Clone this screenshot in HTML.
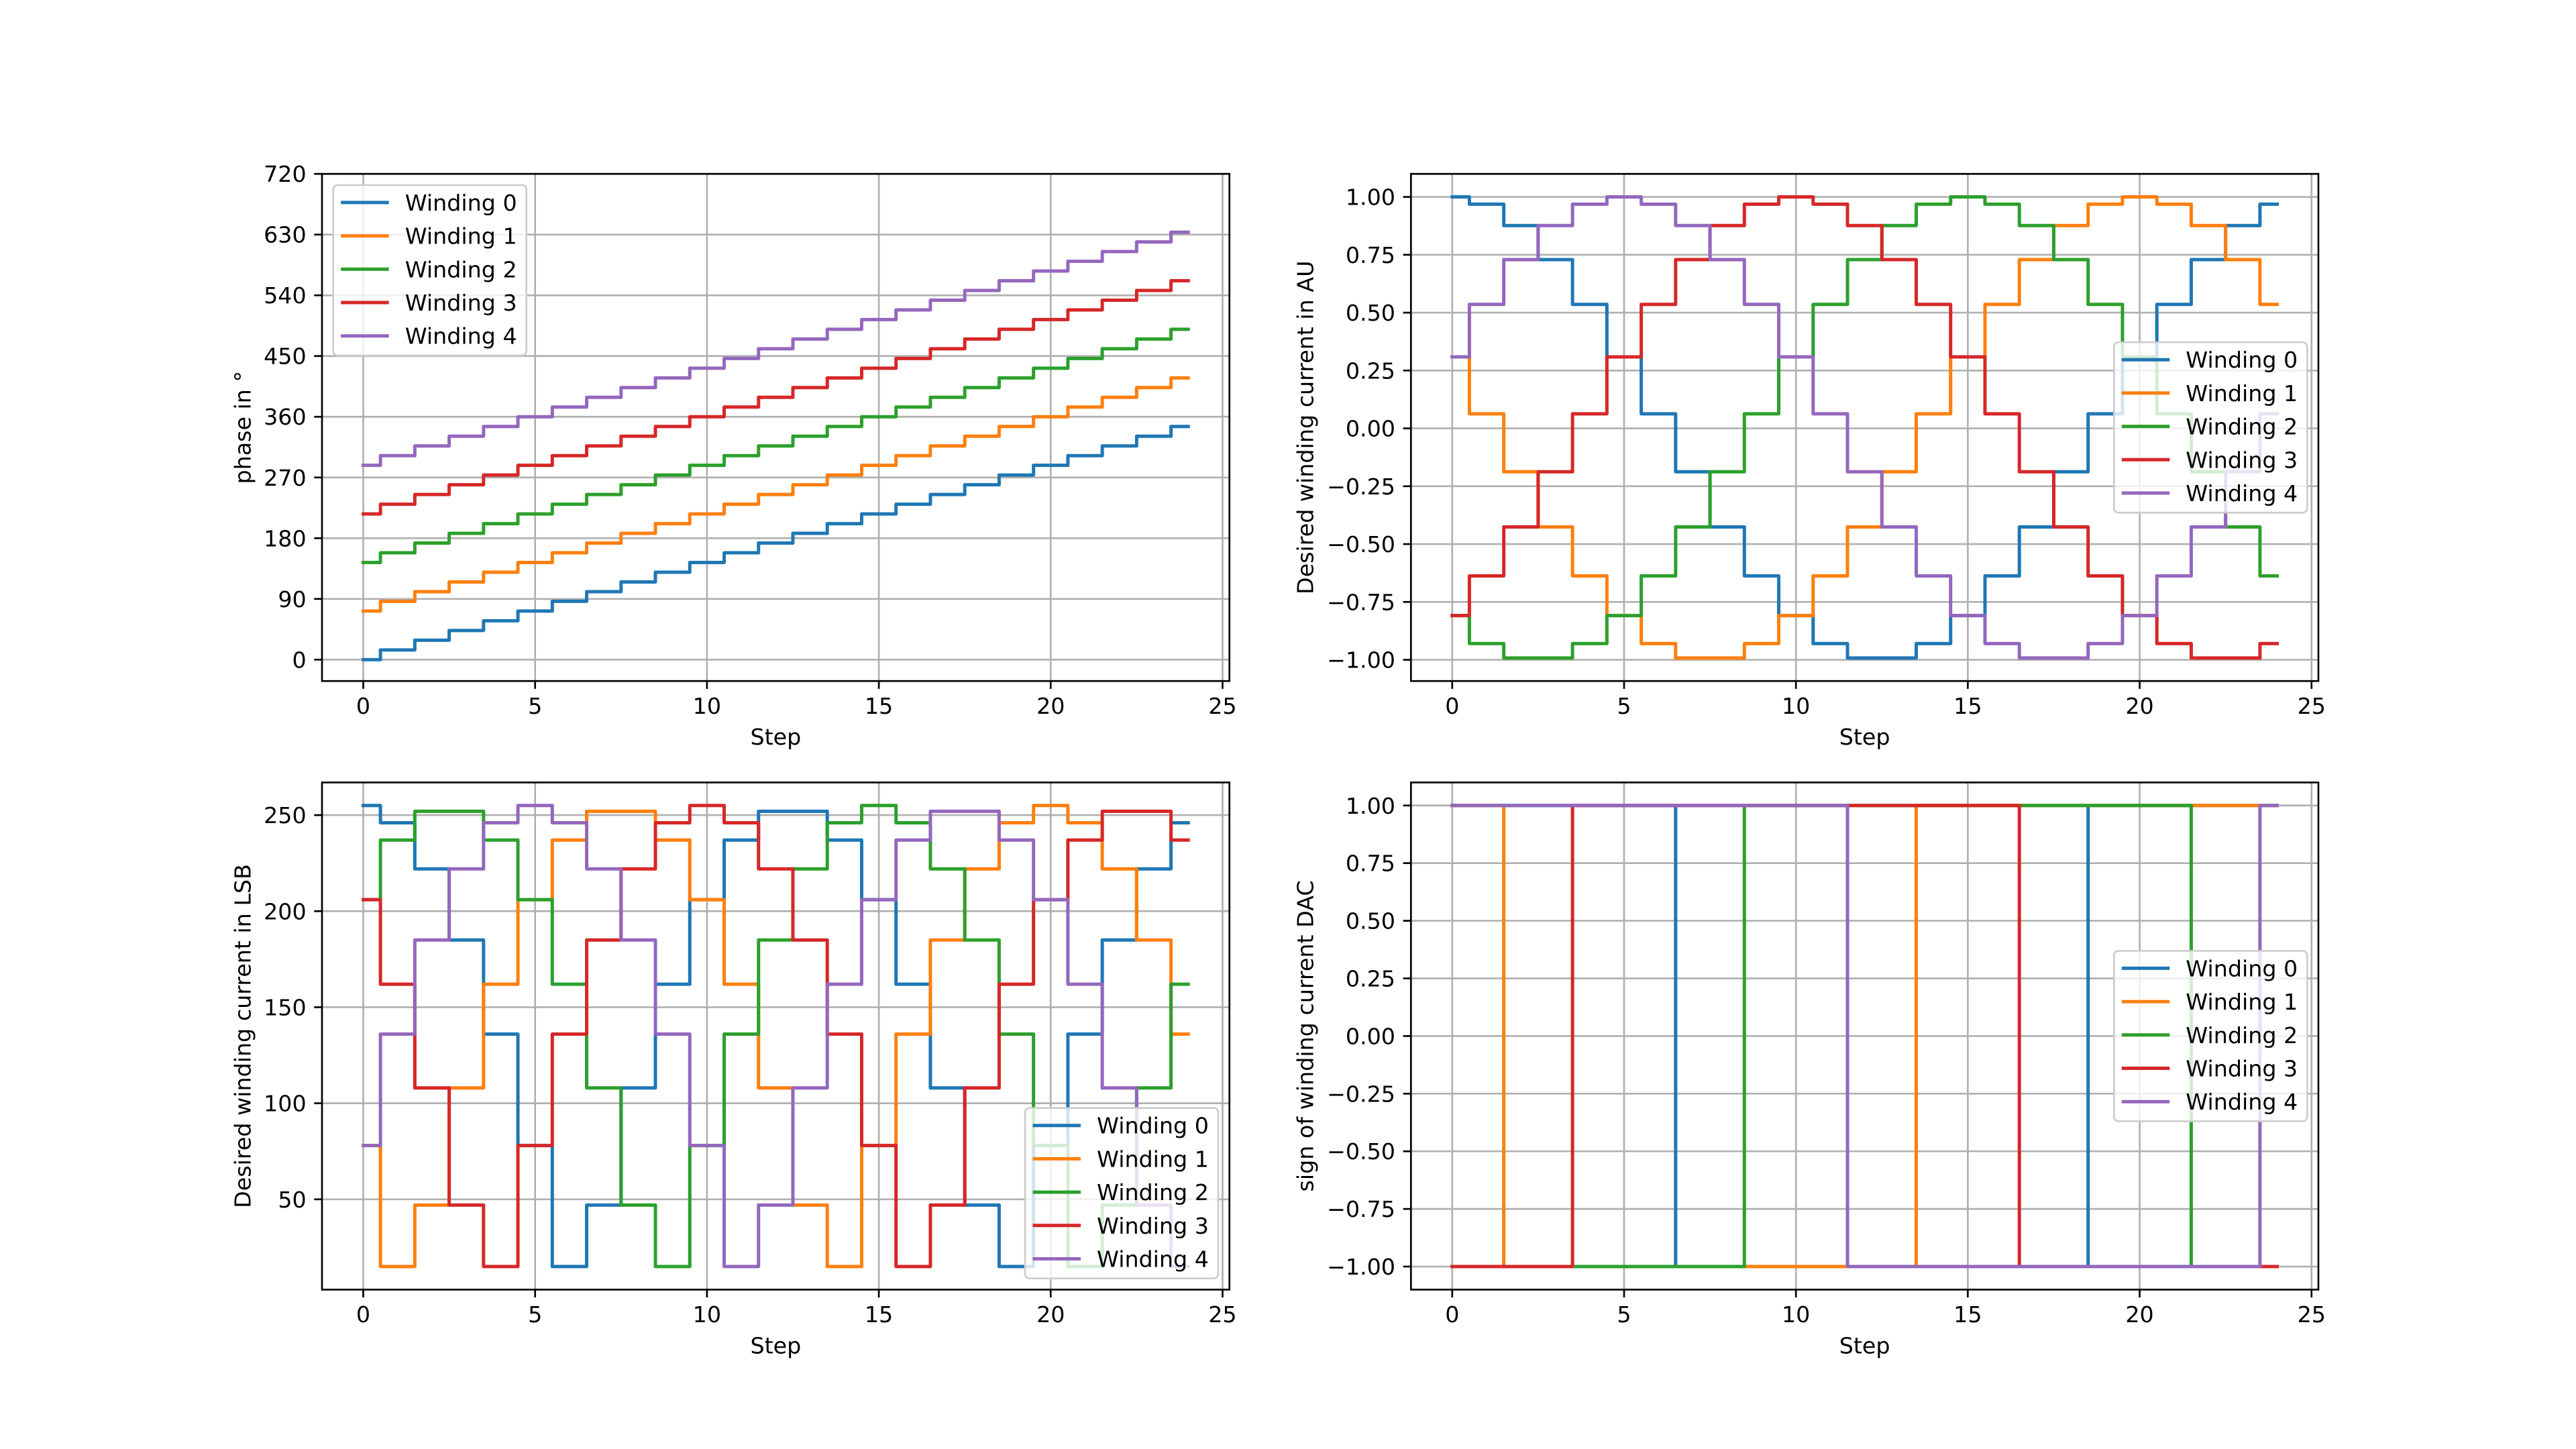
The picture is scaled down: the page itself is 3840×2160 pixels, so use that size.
<!DOCTYPE html>
<html><head><meta charset="utf-8"><title>Winding currents</title>
<style>
html,body{margin:0;padding:0;background:#fff;}
svg{display:block;font-family:"DejaVu Sans","Liberation Sans",sans-serif;}
</style></head>
<body>
<svg id="fig" width="3840" height="2160" viewBox="0 0 3840 2160" xmlns="http://www.w3.org/2000/svg">
<rect width="3840" height="2160" fill="#fff"/>
</svg>
<script>
const steps = [0,1,2,3,4,5,6,7,8,9,10,11,12,13,14,15,16,17,18,19,20,21,22,23,24];
const seriesNames = ["Winding 0","Winding 1","Winding 2","Winding 3","Winding 4"];
const xTicks = [0,5,10,15,20,25];

const phase0 = [0,14.4,28.8,43.2,57.6,72,86.4,100.8,115.2,129.6,144,158.4,172.8,187.2,201.6,216,230.4,244.8,259.2,273.6,288,302.4,316.8,331.2,345.6];
const phase1 = [72,86.4,100.8,115.2,129.6,144,158.4,172.8,187.2,201.6,216,230.4,244.8,259.2,273.6,288,302.4,316.8,331.2,345.6,360,374.4,388.8,403.2,417.6];
const phase2 = [144,158.4,172.8,187.2,201.6,216,230.4,244.8,259.2,273.6,288,302.4,316.8,331.2,345.6,360,374.4,388.8,403.2,417.6,432,446.4,460.8,475.2,489.6];
const phase3 = [216,230.4,244.8,259.2,273.6,288,302.4,316.8,331.2,345.6,360,374.4,388.8,403.2,417.6,432,446.4,460.8,475.2,489.6,504,518.4,532.8,547.2,561.6];
const phase4 = [288,302.4,316.8,331.2,345.6,360,374.4,388.8,403.2,417.6,432,446.4,460.8,475.2,489.6,504,518.4,532.8,547.2,561.6,576,590.4,604.8,619.2,633.6];
const phaseTicks = [0,90,180,270,360,450,540,630,720];

const au0 = [1,0.9686,0.8763,0.7290,0.5358,0.3090,0.0628,-0.1874,-0.4258,-0.6374,-0.8090,-0.9298,-0.9921,-0.9921,-0.9298,-0.8090,-0.6374,-0.4258,-0.1874,0.0628,0.3090,0.5358,0.7290,0.8763,0.9686];
const au1 = [0.3090,0.0628,-0.1874,-0.4258,-0.6374,-0.8090,-0.9298,-0.9921,-0.9921,-0.9298,-0.8090,-0.6374,-0.4258,-0.1874,0.0628,0.3090,0.5358,0.7290,0.8763,0.9686,1,0.9686,0.8763,0.7290,0.5358];
const au2 = [-0.8090,-0.9298,-0.9921,-0.9921,-0.9298,-0.8090,-0.6374,-0.4258,-0.1874,0.0628,0.3090,0.5358,0.7290,0.8763,0.9686,1,0.9686,0.8763,0.7290,0.5358,0.3090,0.0628,-0.1874,-0.4258,-0.6374];
const au3 = [-0.8090,-0.6374,-0.4258,-0.1874,0.0628,0.3090,0.5358,0.7290,0.8763,0.9686,1,0.9686,0.8763,0.7290,0.5358,0.3090,0.0628,-0.1874,-0.4258,-0.6374,-0.8090,-0.9298,-0.9921,-0.9921,-0.9298];
const au4 = [0.3090,0.5358,0.7290,0.8763,0.9686,1,0.9686,0.8763,0.7290,0.5358,0.3090,0.0628,-0.1874,-0.4258,-0.6374,-0.8090,-0.9298,-0.9921,-0.9921,-0.9298,-0.8090,-0.6374,-0.4258,-0.1874,0.0628];
const auTicks = [-1,-0.75,-0.5,-0.25,0,0.25,0.5,0.75,1];
const auTickLabels = ["\u22121.00","\u22120.75","\u22120.50","\u22120.25","0.00","0.25","0.50","0.75","1.00"];

const lsb0 = [255,246,222,185,136,78,15,47,108,162,206,237,252,252,237,206,162,108,47,15,78,136,185,222,246];
const lsb1 = [78,15,47,108,162,206,237,252,252,237,206,162,108,47,15,78,136,185,222,246,255,246,222,185,136];
const lsb2 = [206,237,252,252,237,206,162,108,47,15,78,136,185,222,246,255,246,222,185,136,78,15,47,108,162];
const lsb3 = [206,162,108,47,15,78,136,185,222,246,255,246,222,185,136,78,15,47,108,162,206,237,252,252,237];
const lsb4 = [78,136,185,222,246,255,246,222,185,136,78,15,47,108,162,206,237,252,252,237,206,162,108,47,15];
const lsbTicks = [50,100,150,200,250];

const sign0 = [1,1,1,1,1,1,1,-1,-1,-1,-1,-1,-1,-1,-1,-1,-1,-1,-1,1,1,1,1,1,1];
const sign1 = [1,1,-1,-1,-1,-1,-1,-1,-1,-1,-1,-1,-1,-1,1,1,1,1,1,1,1,1,1,1,1];
const sign2 = [-1,-1,-1,-1,-1,-1,-1,-1,-1,1,1,1,1,1,1,1,1,1,1,1,1,1,-1,-1,-1];
const sign3 = [-1,-1,-1,-1,1,1,1,1,1,1,1,1,1,1,1,1,1,-1,-1,-1,-1,-1,-1,-1,-1];
const sign4 = [1,1,1,1,1,1,1,1,1,1,1,1,-1,-1,-1,-1,-1,-1,-1,-1,-1,-1,-1,-1,1];

const NS = "http://www.w3.org/2000/svg";
const fig = document.getElementById('fig');
const COLORS = ["#1f77b4","#ff7f0e","#2ca02c","#d62728","#9467bd"];
const FS = 33.3;

function mk(tag, attrs, parent){
  const e = document.createElementNS(NS, tag);
  for (const k in attrs) e.setAttribute(k, attrs[k]);
  (parent||fig).appendChild(e);
  return e;
}

function panel(cfg){
  const g = mk('g', {});
  
  
  const L = cfg.x0, R = cfg.x1, T = cfg.y0, B = cfg.y1;
  const sx = v => L + (v - cfg.xlim[0]) / (cfg.xlim[1] - cfg.xlim[0]) * (R - L);
  const sy = v => B - (v - cfg.ylim[0]) / (cfg.ylim[1] - cfg.ylim[0]) * (B - T);
  xTicks.forEach(t => {
    const l = mk('line', {x1:sx(t), x2:sx(t), y1:T, y2:B, stroke:'#b0b0b0', 'stroke-width':2.67}, g);
    
    
  });
  cfg.yticks.forEach(t => {
    const l = mk('line', {x1:L, x2:R, y1:sy(t), y2:sy(t), stroke:'#b0b0b0', 'stroke-width':2.67}, g);
    
    
  });
  cfg.series.forEach((ys, si) => {
    let d = 'M' + sx(steps[0]) + ' ' + sy(ys[0]);
    for (let i = 0; i < steps.length - 1; i++) {
      const xm = sx((steps[i] + steps[i+1]) / 2);
      d += ' L' + xm + ' ' + sy(ys[i]) + ' L' + xm + ' ' + sy(ys[i+1]);
    }
    d += ' L' + sx(steps[steps.length-1]) + ' ' + sy(ys[ys.length-1]);
    const p = mk('path', {d:d, fill:'none', stroke:COLORS[si], 'stroke-width':5, 'stroke-linejoin':'round', 'stroke-linecap':'square'}, g);
    
    
  });
  const sp = mk('rect', {x:L, y:T, width:R-L, height:B-T, fill:'none', stroke:'#000', 'stroke-width':2.67}, g);
  
  
  xTicks.forEach(t => {
    mk('line', {x1:sx(t), x2:sx(t), y1:B, y2:B+11.7, stroke:'#000', 'stroke-width':2.67}, g);
    const tx = mk('text', {x:sx(t), y:B+23.3+FS*0.76, 'font-size':FS, 'text-anchor':'middle', fill:'#000'}, g);
    tx.textContent = String(t);
    
    
  });
  cfg.yticks.forEach((t, i) => {
    mk('line', {x1:L-11.7, x2:L, y1:sy(t), y2:sy(t), stroke:'#000', 'stroke-width':2.67}, g);
    const tx = mk('text', {x:L-23.3, y:sy(t)+FS*0.36, 'font-size':FS, 'text-anchor':'end', fill:'#000'}, g);
    tx.textContent = cfg.ylabels ? cfg.ylabels[i] : String(t);
    
    
  });
  const xl = mk('text', {x:(L+R)/2, y:B+95, 'font-size':FS, 'text-anchor':'middle', fill:'#000'}, g);
  xl.textContent = 'Step';
  
  
  const cy = (T+B)/2;
  const yl = mk('text', {x:cfg.ylabelX, y:cy, 'font-size':FS, 'text-anchor':'middle', 'dominant-baseline':'central', fill:'#000', transform:'rotate(-90 ' + cfg.ylabelX + ' ' + cy + ')'}, g);
  yl.textContent = cfg.ytitle;
  
  
  const LW = 288, LH = 254;
  let lx, ly;
  if (cfg.legend === 'ul') { lx = L + 16.7; ly = T + 16.7; }
  else if (cfg.legend === 'cr') { lx = R - 16.7 - LW; ly = cy - LH/2; }
  else { lx = R - 16.7 - LW; ly = B - 16.7 - LH; }
  const lg = mk('g', {}, g);
  
  
  mk('rect', {x:lx, y:ly, width:LW, height:LH, rx:6.7, fill:'#fff', 'fill-opacity':0.8, stroke:'#cccccc', 'stroke-width':2.67}, lg);
  seriesNames.forEach((n, i) => {
    const yy = ly + 26 + i * 49.7;
    const e = mk('g', {}, lg);
    
    
    mk('line', {x1:lx+11.5, x2:lx+83, y1:yy, y2:yy, stroke:COLORS[i], 'stroke-width':5}, e);
    const t = mk('text', {x:lx+107, y:yy+12, 'font-size':FS, fill:'#000'}, e);
    t.textContent = n;
  });
}

const XL = [-1.2, 25.2];
panel({name:'phase-chart', x0:480, x1:1832.7, y0:259.2, y1:1015.2, xlim:XL, ylim:[-31.7,720],
  yticks:phaseTicks, ytitle:'phase in \u00b0', ylabelX:362, legend:'ul',
  series:[phase0,phase1,phase2,phase3,phase4]});
panel({name:'current-au-chart', x0:2103.3, x1:3456, y0:259.2, y1:1015.2, xlim:XL, ylim:[-1.0917,1.0996],
  yticks:auTicks, ylabels:auTickLabels, ytitle:'Desired winding current in AU', ylabelX:1946, legend:'cr',
  series:[au0,au1,au2,au3,au4]});
panel({name:'current-lsb-chart', x0:480, x1:1832.7, y0:1166.4, y1:1922.4, xlim:XL, ylim:[3,267],
  yticks:lsbTicks, ytitle:'Desired winding current in LSB', ylabelX:362, legend:'lr',
  series:[lsb0,lsb1,lsb2,lsb3,lsb4]});
panel({name:'sign-chart', x0:2103.3, x1:3456, y0:1166.4, y1:1922.4, xlim:XL, ylim:[-1.1,1.1],
  yticks:auTicks, ylabels:auTickLabels, ytitle:'sign of winding current DAC', ylabelX:1946, legend:'cr',
  series:[sign0,sign1,sign2,sign3,sign4]});
</script>
</body></html>
